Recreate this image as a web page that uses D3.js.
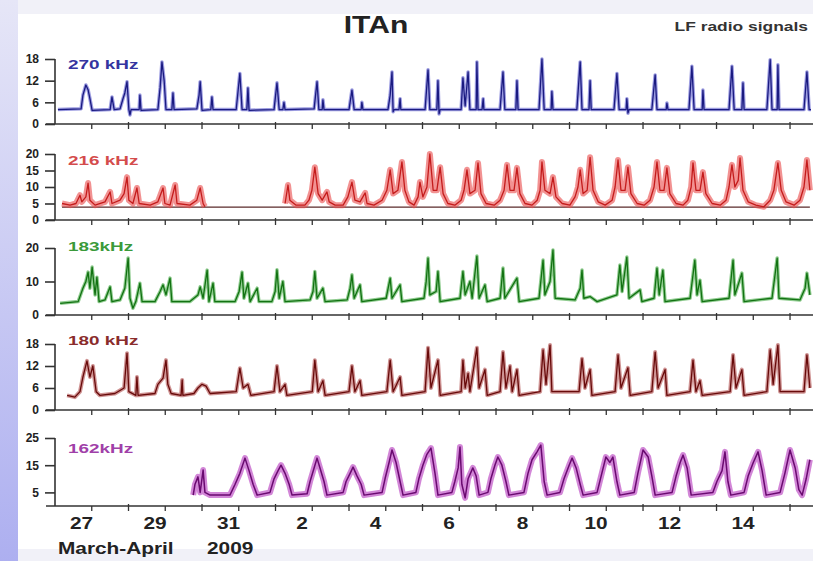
<!DOCTYPE html>
<html>
<head>
<meta charset="utf-8">
<script src="https://cdn.jsdelivr.net/npm/d3@7"></script>
<style>
  body { margin: 0; background: #fff; }
  svg { display: block; font-family: "Liberation Sans", Arial, sans-serif; }
</style>
</head>
<body>
<div id="chart"></div>
<script>
'use strict';

// ---- data (t = days since 27 March 2009 00:00 UT, v = signal amplitude) ----
var dayLabels = ['27', '29', '31', '2', '4', '6', '8', '10', '12', '14'];
var labelDays = [0, 2, 4, 6, 8, 10, 12, 14, 16, 18];
var seriesNames = ['270 kHz', '216 kHz', '183kHz', '180 kHz', '162kHz'];

var ticks270 = [0, 6, 12, 18];
var ticks216 = [0, 5, 10, 15, 20];
var ticks183 = [0, 10, 20];
var ticks180 = [0, 6, 12, 18];
var ticks162 = [5, 15, 25];

var s270 = [
  [0.08,4],[0.71,4.2],[0.76,8],[0.84,10.8],[0.90,9.5],[0.95,7],[1.01,3.8],
  [1.50,4],[1.55,7.5],[1.61,4],[1.77,4.2],[1.85,7],[1.90,8.6],[1.96,11.7],
  [2.01,4],[2.04,2.5],[2.07,4],[2.29,4],[2.31,8],[2.34,3.8],[2.80,4],[2.86,10],[2.91,17.2],[2.97,12],
  [3.02,4],[3.18,4],[3.21,8.6],[3.24,4],[3.86,4.2],[3.92,8],[3.95,11.7],
  [4.00,3.8],[4.24,4],[4.27,7.5],[4.30,4],[4.93,4],[4.98,9],
  [5.03,14],[5.09,4],[5.22,4],[5.25,10],[5.28,3.8],[5.96,4],
  [6.04,11.4],[6.10,4],[6.20,4],[6.23,6],[6.26,4],
  [7.05,4.2],[7.13,11.7],[7.18,4],[7.27,4],[7.29,6.7],[7.32,4],
  [8.00,4],[8.08,9.4],[8.14,4],[8.33,4],[8.35,6],[8.38,4],
  [9.06,4],[9.12,8],[9.17,14.4],[9.20,3.4],[9.23,4],[9.36,4],[9.39,7],[9.41,4],
  [10.07,4],[10.15,15],[10.20,4],[10.39,4],[10.42,12],[10.45,2.8],[10.48,4],
  [11.05,4],[11.10,12.8],[11.16,5],[11.24,14.4],[11.29,4],[11.46,4],[11.48,17.2],[11.51,4],[11.62,4],[11.65,7],[11.67,4],
  [12.11,4],[12.19,14.4],[12.24,4],[12.54,4],[12.57,12],[12.60,4],
  [13.17,4],[13.25,18],[13.31,4],[13.50,4],[13.52,9],[13.55,4],
  [14.20,4],[14.29,17.2],[14.34,4],[14.53,4],[14.56,12],[14.59,4],
  [15.21,4],[15.29,14],[15.35,4],[15.54,4],[15.56,7],[15.59,3],[15.62,4],
  [16.24,4],[16.33,13.6],[16.38,4],[16.63,4],[16.65,5.8],[16.68,4],
  [17.25,4],[17.33,16],[17.39,4],[17.61,4],[17.63,9.4],[17.66,4],
  [18.34,4],[18.42,16],[18.48,4],[18.69,4],[18.72,11.4],[18.75,4],
  [19.37,4],[19.46,17.8],[19.51,4],[19.65,4],[19.67,16.4],[19.70,4],
  [20.38,4],[20.46,14.4],[20.52,4],[20.57,4]
];

var s216 = [
  [0.19,5],[0.41,4.5],[0.57,5],[0.68,7.5],[0.73,5.5],[0.84,7],[0.90,11.2],[0.95,6],
  [1.09,4.5],[1.36,5.5],[1.50,8.5],[1.55,5],[1.77,6],[1.88,8],[1.96,13],
  [2.01,6],[2.12,5],[2.23,9.7],[2.29,5],[2.59,4.5],[2.80,5.5],[2.94,9.7],[2.99,5],
  [3.13,4.5],[3.27,10.6],[3.32,5],[3.67,4.5],[3.86,6],[3.95,9.7],[4.03,5],[4.08,4],
  [5.2,null],
  [6.26,5],[6.34,10.6],[6.39,6],[6.56,4.5],[6.80,4.5],[6.91,6],[6.99,9],
  [7.07,16],[7.16,8],[7.27,6],[7.40,8.5],[7.46,5.5],[7.62,4.5],[7.84,4.5],[7.97,7],
  [8.08,11.5],[8.16,6],[8.30,5.5],[8.44,8.2],[8.49,5],[8.68,4.5],[8.90,6],
  [9.03,9],[9.12,15.2],[9.20,8],[9.33,9],[9.44,17.6],[9.52,9],[9.63,5.5],[9.77,4.5],[9.88,7],[9.93,11.5],
  [10.01,7],[10.12,10],[10.20,20],[10.29,9],[10.39,9],[10.48,16],[10.56,8],[10.69,5],[10.88,4.5],
  [11.05,6],[11.13,9],[11.21,15.2],[11.29,8],[11.43,9],[11.51,17.3],[11.59,8],[11.73,5],[11.95,4.5],
  [12.11,6],[12.22,9],[12.30,16.7],[12.38,9],[12.49,9],[12.57,15.8],[12.65,8],[12.79,5],[12.98,4.5],
  [13.12,6],[13.20,9],[13.25,17.6],[13.33,9],[13.47,8],[13.55,13],[13.63,7],[13.80,5],
  [14.01,4.5],[14.15,7],[14.23,10],[14.29,15.2],[14.37,8],[14.48,9],[14.56,19],[14.64,9],[14.78,5.5],[14.97,4.5],
  [15.16,6],[15.24,10],[15.32,18.2],[15.40,9],[15.51,9],[15.59,16],[15.67,8],[15.84,5],
  [16.03,4.5],[16.19,6],[16.30,10],[16.38,17.6],[16.46,9],[16.57,9],[16.65,15.8],[16.73,8],[16.90,5],
  [17.09,4.5],[17.22,6],[17.31,10],[17.36,17.3],[17.44,9],[17.55,9],[17.63,14.5],[17.71,8],[17.88,5],
  [18.10,4.5],[18.26,6],[18.34,10],[18.42,16.7],[18.50,10],[18.59,12],[18.64,18.8],[18.72,9],[18.86,5.5],
  [19.07,4.5],[19.29,4],[19.46,6],[19.56,9],[19.67,17.3],[19.76,9],[19.89,5.5],
  [20.11,4.5],[20.27,6],[20.38,10],[20.46,18.2],[20.54,9]
];
var floor216 = [[0.19,3.9],[20.54,3.9]];

var s183 = [
  [0.14,3.5],[0.63,4],[0.76,8],[0.84,10],[0.90,12.8],[0.95,8],
  [1.01,14.3],[1.09,6],[1.14,11.3],[1.20,4],[1.36,4.5],[1.50,8.4],[1.55,4],[1.77,4.5],[1.90,8],[1.99,17],
  [2.04,5],[2.12,2],[2.20,4],[2.31,9.5],[2.37,4],[2.72,4],[2.86,7],[2.94,9],
  [3.02,6],[3.13,11],[3.18,4],[3.67,4],[3.89,6],[3.95,8.4],
  [4.03,5],[4.14,13.4],[4.19,4],[4.30,9.5],[4.35,4],[4.90,4],
  [5.01,7],[5.09,12.8],[5.14,5],[5.25,9.5],[5.31,4],[5.50,8],[5.55,4],[5.90,4],[5.99,7],
  [6.04,13.5],[6.10,5],[6.20,10],[6.26,4],[6.94,4.5],
  [7.02,7],[7.07,13],[7.13,5],[7.29,8],[7.35,4],[7.95,4.5],
  [8.03,8],[8.08,12],[8.14,5],[8.30,9],[8.35,4],
  [9.01,5],[9.12,11],[9.17,5],[9.39,9],[9.44,4],
  [10.04,5],[10.10,10],[10.15,17],[10.20,6],[10.37,7],[10.42,13],[10.48,4],
  [11.02,5],[11.10,13],[11.16,6],[11.29,10],[11.35,5],[11.48,17.6],[11.54,5],[11.70,9],[11.76,4],
  [12.11,5],[12.19,14],[12.24,5],[12.57,11],[12.63,4],
  [13.17,5],[13.28,16.4],[13.33,6],[13.47,10],[13.55,19.4],[13.61,5],
  [14.15,4.5],[14.29,8],[14.34,13.4],[14.39,5],[14.56,5.5],[14.75,4],
  [15.29,6],[15.37,14.9],[15.43,7],[15.56,17.3],[15.62,5],[15.92,7.5],[15.97,4],
  [16.30,5],[16.38,14],[16.44,6],[16.54,13.4],[16.60,4],
  [17.28,5],[17.41,16.4],[17.47,6],[17.55,10.4],[17.61,4],
  [18.34,5],[18.45,16.4],[18.50,6],[18.69,12.5],[18.75,4],
  [19.51,5],[19.65,17],[19.70,5],
  [20.27,4.5],[20.41,8],[20.46,12.5],[20.54,6]
];

var s180 = [
  [0.33,4],[0.54,3.5],[0.68,5],[0.76,9],[0.87,13.4],[0.95,9],
  [1.03,12],[1.12,5],[1.22,4],[1.63,4.5],[1.88,6],[1.96,15.5],
  [2.01,5],[2.20,4],[2.23,9],[2.26,4],[2.72,4.5],[2.80,7],[2.94,8.7],
  [3.02,13.6],[3.07,7],[3.16,4.5],[3.43,4],[3.46,8.2],[3.48,4],[3.78,4.5],[3.89,6],
  [4.00,7],[4.11,6.5],[4.22,4.5],[4.93,5],
  [5.03,11.4],[5.12,6],[5.25,7],[5.33,4],[5.96,5],
  [6.04,12],[6.12,5],[6.26,7],[6.31,4],
  [7.00,5],[7.07,13.6],[7.16,5],[7.29,8],[7.35,4],
  [8.00,5],[8.08,12],[8.16,5],[8.30,8],[8.35,4],
  [9.03,5],[9.12,13.6],[9.20,5],[9.39,9],[9.44,4],
  [10.07,5],[10.15,17],[10.23,6],[10.42,13.6],[10.48,4],
  [11.05,5],[11.10,13.6],[11.16,6],[11.24,10],[11.29,5],[11.48,17],[11.54,6],[11.70,11],[11.76,4],
  [12.11,5],[12.19,15.8],[12.27,6],[12.38,12],[12.44,5],[12.57,11],[12.63,4],
  [13.20,5],[13.28,16.4],[13.36,7],[13.47,17.7],[13.52,5],
  [14.26,5],[14.34,14],[14.42,6],[14.56,11],[14.61,4],
  [15.24,5],[15.32,15],[15.40,6],[15.59,11.5],[15.65,4],
  [16.24,5],[16.33,15.8],[16.41,6],[16.60,11],[16.65,4],
  [17.28,5],[17.36,13.6],[17.44,5],[17.55,8],[17.61,4],
  [18.37,5],[18.45,15],[18.53,6],[18.69,11],[18.75,4],
  [19.37,5],[19.46,16.4],[19.54,7],[19.67,17.7],[19.73,5],
  [20.38,5],[20.46,15],[20.54,6]
];

var s162 = [
  [3.76,4],[3.81,8],[3.89,10.7],[3.95,5],[4.03,13.2],[4.08,5],[4.22,4],[4.76,4],[4.90,8],
  [5.03,12],[5.17,17.6],[5.28,13],[5.39,8],[5.50,4],[5.85,5],[5.96,10],
  [6.07,13],[6.15,15],[6.26,12],[6.37,8],[6.45,4],[6.86,4.5],[6.94,9],
  [7.05,14],[7.13,17.6],[7.21,14],[7.32,9],[7.40,4],[7.84,5],[7.92,9],
  [8.03,12],[8.11,14.3],[8.22,11],[8.33,8],[8.41,4],[8.90,5],[8.98,10],
  [9.09,16],[9.17,20.6],[9.28,16],[9.39,9],[9.47,4],[9.82,5],[9.90,10],
  [10.01,15],[10.12,19],[10.23,21.3],[10.34,12],[10.42,4],[10.80,5],[10.88,9],[10.97,14],
  [11.02,21.7],[11.07,8],[11.16,3],[11.24,10],[11.37,14],[11.46,11],[11.54,4],[11.78,5],[11.86,10],[11.97,15],
  [12.05,18],[12.16,15],[12.27,9],[12.35,4],[12.76,5],[12.87,12],[12.98,17],
  [13.12,20],[13.22,22.4],[13.31,9],[13.39,4],[13.74,5],[13.85,10],[13.99,15],
  [14.07,17.6],[14.18,14],[14.29,8],[14.37,4],[14.75,5],[14.86,11],[14.99,18],
  [15.10,16],[15.18,18],[15.29,9],[15.37,4],[15.76,5],[15.86,12],
  [16.00,20.6],[16.14,18],[16.24,11],[16.33,4],[16.79,5],[16.90,11],
  [17.01,16],[17.09,18.7],[17.20,14],[17.31,4],[17.90,5],
  [18.01,9],[18.15,13],[18.23,19.9],[18.31,9],[18.39,4],[18.75,5],[18.86,11],
  [19.00,16],[19.13,19.9],[19.24,13],[19.35,4],[19.73,5],[19.86,12],
  [20.00,20.6],[20.14,14],[20.24,6],[20.33,4],[20.44,10],[20.54,17]
];

// ---- layout ----
var width = 813, height = 561;
var start = new Date(Date.UTC(2009, 2, 27));
function toDate(t) { return new Date(+start + t * 864e5); }

var svg = d3.select('#chart').append('svg')
  .attr('width', width)
  .attr('height', height);

var defs = svg.append('defs');
var grad = defs.append('linearGradient').attr('id', 'side')
  .attr('x1', 0).attr('y1', 0).attr('x2', 0).attr('y2', 1);
grad.append('stop').attr('offset', 0).attr('stop-color', '#e6e6f7');
grad.append('stop').attr('offset', 1).attr('stop-color', '#adaff0');

svg.append('rect').attr('width', width).attr('height', height).attr('fill', '#f1f1f8');
svg.append('rect').attr('width', 18).attr('height', height).attr('fill', 'url(#side)');
svg.append('rect').attr('x', 18).attr('y', 14).attr('width', width - 18).attr('height', 535)
  .attr('fill', '#fff');

var x = d3.scaleTime()
  .domain([start, toDate(20.625)])
  .range([55, 813]);

var panels = [
  { data: s270, ticks: ticks270, y0: 124, y1: 59, line: '#1a1a80', fuzz: '#3c3cc4', fw: 3.5, fo: 0.5, lw: 1.3, label: '#3434a0', ly: 69 },
  { data: s216, ticks: ticks216, y0: 220, y1: 154, line: '#c41c1c', fuzz: '#ea4a4a', fw: 6, fo: 0.6, lw: 1.3, label: '#d44c4c', ly: 165, floor: floor216 },
  { data: s183, ticks: ticks183, y0: 315, y1: 248, line: '#127212', fuzz: '#34a234', fw: 3.5, fo: 0.55, lw: 1.3, label: '#3a9a3a', ly: 251 },
  { data: s180, ticks: ticks180, y0: 410, y1: 344, line: '#680a0a', fuzz: '#a83c3c', fw: 4, fo: 0.55, lw: 1.3, label: '#8a2c2c', ly: 345 },
  { data: s162, ticks: ticks162, y0: 506, y1: 438, line: '#6a0a70', fuzz: '#b436bc', fw: 6, fo: 0.6, lw: 1.5, label: '#a040a8', ly: 453 }
];

function stretch(sel, k) {
  sel.each(function() {
    var w = this.getComputedTextLength();
    d3.select(this).attr('textLength', w * k).attr('lengthAdjust', 'spacingAndGlyphs');
  });
}

var days = d3.utcDay.range(start, toDate(20.7));

panels.forEach(function(p, i) {
  var y = d3.scaleLinear()
    .domain([0, d3.max(p.ticks)])
    .range([p.y0, p.y1]);
  var g = svg.append('g');

  var line = d3.line()
    .defined(function(d) { return d[1] != null; })
    .x(function(d) { return x(toDate(d[0])); })
    .y(function(d) { return y(d[1]); });

  if (p.floor) {
    g.append('path').datum(p.floor).attr('d', line)
      .attr('fill', 'none').attr('stroke', '#5a2a2a').attr('stroke-width', 1.2);
  }
  g.append('path').datum(p.data).attr('d', line)
    .attr('fill', 'none').attr('stroke', p.fuzz).attr('stroke-opacity', p.fo)
    .attr('stroke-width', p.fw).attr('stroke-linejoin', 'round');
  g.append('path').datum(p.data).attr('d', line)
    .attr('fill', 'none').attr('stroke', p.line)
    .attr('stroke-width', p.lw).attr('stroke-linejoin', 'round');

  // x axis line and day ticks
  g.append('line').attr('x1', 46).attr('x2', width)
    .attr('y1', p.y0).attr('y2', p.y0)
    .attr('stroke', '#333').attr('stroke-width', 1.6);
  g.selectAll('.dt').data(days.slice(1)).enter().append('line')
    .attr('x1', function(d) { return x(d); })
    .attr('x2', function(d) { return x(d); })
    .attr('y1', function(d, j) { return j % 2 ? p.y0 - 2 : p.y0; })
    .attr('y2', p.y0 + 5)
    .attr('stroke', '#333').attr('stroke-width', 1.3);

  // y axis
  var ax = g.append('g').attr('transform', 'translate(55,0)')
    .call(d3.axisLeft(y).tickValues(p.ticks).tickSize(10).tickSizeOuter(0).tickPadding(6));
  ax.select('.domain').attr('stroke', '#333').attr('stroke-width', 1.6)
    .attr('d', 'M0,' + y(0) + 'V' + y(d3.max(p.ticks)));
  ax.selectAll('.tick line').attr('stroke', '#333').attr('stroke-width', 1.6);
  ax.selectAll('.tick text').attr('fill', '#222')
    .style('font-size', '12px').style('font-weight', 'bold')
    .style('font-family', '"Liberation Sans", Arial, sans-serif');

  g.append('text').attr('x', 68).attr('y', p.ly)
    .attr('fill', p.label).style('font-size', '13.5px').style('font-weight', 'bold')
    .text(seriesNames[i]).call(stretch, 1.4);
});

// bottom date labels
svg.selectAll('.dl').data(dayLabels).enter().append('text')
  .attr('x', function(d, i) { return x(toDate(labelDays[i] + 0.72)); })
  .attr('y', 529)
  .attr('text-anchor', 'middle')
  .attr('fill', '#222')
  .style('font-size', '16px').style('font-weight', 'bold')
  .text(function(d) { return d; })
  .call(stretch, 1.3);

svg.append('text').attr('x', 58).attr('y', 554).attr('fill', '#222')
  .style('font-size', '16px').style('font-weight', 'bold')
  .text('March-April').call(stretch, 1.3);
svg.append('text').attr('x', 207).attr('y', 554).attr('fill', '#222')
  .style('font-size', '16px').style('font-weight', 'bold')
  .text('2009').call(stretch, 1.3);

svg.append('text').attr('x', 376).attr('y', 33).attr('text-anchor', 'middle')
  .attr('fill', '#222').style('font-size', '24px').style('font-weight', 'bold')
  .text('ITAn').call(stretch, 1.25);
svg.append('text').attr('x', 808).attr('y', 31).attr('text-anchor', 'end')
  .attr('fill', '#333').style('font-size', '12px').style('font-weight', 'bold')
  .text('LF radio signals').call(stretch, 1.45);
</script>
</body>
</html>
